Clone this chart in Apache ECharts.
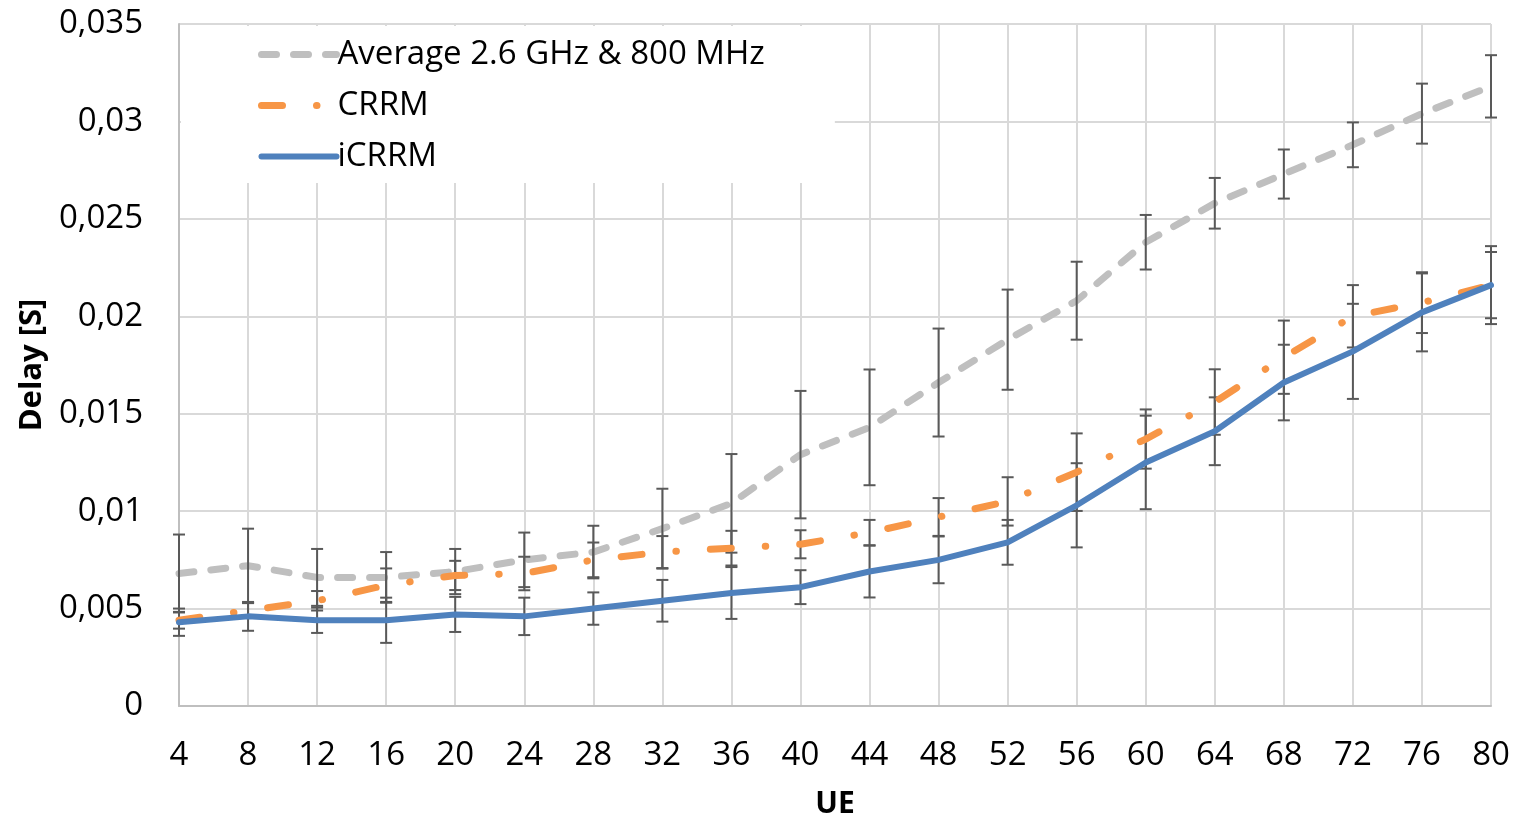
<!DOCTYPE html>
<html>
<head>
<meta charset="utf-8">
<script src="https://cdn.jsdelivr.net/npm/echarts@6/dist/echarts.min.js"></script>
<style>
  html, body { margin: 0; padding: 0; background: #fff; }
  #main { width: 1514px; height: 815px; }
</style>
</head>
<body>
<div id="main"></div>
<script>
// UE counts on the x axis
const ueLabels = ['4', '8', '12', '16', '20', '24', '28', '32', '36', '40', '44', '48', '52', '56', '60', '64', '68', '72', '76', '80']

// Average 2.6 GHz & 800 MHz
const avgDelay = [0.0068, 0.0072, 0.0066, 0.0066, 0.0069, 0.0075, 0.0079, 0.0091, 0.0104, 0.0129, 0.0143, 0.0166, 0.0188, 0.0208, 0.0238, 0.0258, 0.0273, 0.0288, 0.0304, 0.0318]
const avgErr = [0.0020, 0.0019, 0.00146, 0.0013, 0.00116, 0.0014, 0.00135, 0.00205, 0.00253, 0.00327, 0.00297, 0.00277, 0.00257, 0.0020, 0.0014, 0.0013, 0.00126, 0.00115, 0.00154, 0.0016]

// CRRM
const crrmDelay = [0.0044, 0.0049, 0.0054, 0.0062, 0.0067, 0.0068, 0.0075, 0.0079, 0.0081, 0.0083, 0.0089, 0.0097, 0.0105, 0.0120, 0.0137, 0.0156, 0.0179, 0.0200, 0.0207, 0.0216]
const crrmErr = [0.00043, 0.00038, 0.0005, 0.00086, 0.00075, 0.00086, 0.00089, 0.00082, 0.00089, 0.00072, 0.00065, 0.00097, 0.00124, 0.00199, 0.00152, 0.00168, 0.00188, 0.0016, 0.00156, 0.0020]

// iCRRM
const icrrmDelay = [0.0043, 0.0046, 0.0044, 0.0044, 0.0047, 0.0046, 0.0050, 0.0054, 0.0058, 0.0061, 0.0069, 0.0075, 0.0084, 0.0103, 0.0125, 0.0141, 0.0166, 0.0182, 0.0202, 0.0216]
const icrrmErr = [0.0007, 0.00074, 0.00065, 0.00116, 0.0009, 0.00096, 0.00083, 0.00107, 0.00133, 0.00087, 0.00133, 0.0012, 0.00115, 0.00216, 0.0024, 0.00174, 0.00194, 0.00244, 0.0020, 0.0017]

const FONT = "'Open Sans', sans-serif"

// [index, low, high] for the error bars
function errData (mean, err) {
  return mean.map((v, i) => [i, v - err[i], v + err[i]])
}

function renderErr (params, api) {
  let x = api.value(0)
  let lo = api.coord([x, api.value(1)])
  let hi = api.coord([x, api.value(2)])
  let w = 6 // half width of the cap
  let style = { stroke: '#595959', lineWidth: 2 }
  return {
    type: 'group',
    children: [
      { type: 'line', shape: { x1: lo[0], y1: lo[1], x2: hi[0], y2: hi[1] }, style: style },
      { type: 'line', shape: { x1: lo[0] - w, y1: lo[1], x2: lo[0] + w, y2: lo[1] }, style: style },
      { type: 'line', shape: { x1: hi[0] - w, y1: hi[1], x2: hi[0] + w, y2: hi[1] }, style: style }
    ]
  }
}

function errSeries (mean, err, z) {
  return {
    type: 'custom',
    renderItem: renderErr,
    encode: { x: 0, y: [1, 2] },
    data: errData(mean, err),
    z: z,
    silent: true
  }
}

let myChart = echarts.init(document.getElementById('main'))
let option = {
  animation: false,
  backgroundColor: '#fff',
  grid: {
    left: 179,
    right: 23,
    top: 24,
    bottom: 109,
    containLabel: false,
    outerBoundsMode: 'none'
  },
  legend: {
    data: ['Average 2.6 GHz & 800 MHz', 'CRRM', 'iCRRM'],
    orient: 'vertical',
    left: 181,
    top: 26,
    padding: [12, 70, 10, 77],
    backgroundColor: '#fff',
    itemWidth: 75,
    itemHeight: 14,
    itemGap: 18,
    lineStyle: { width: 'inherit' },
    itemStyle: { opacity: 0 },
    textStyle: {
      fontFamily: FONT,
      fontSize: 33,
      color: '#000',
      lineHeight: 33,
      padding: [0, 0, 0, -4]
    },
    z: 10
  },
  xAxis: {
    type: 'category',
    data: ueLabels,
    boundaryGap: false,
    name: 'UE',
    nameLocation: 'middle',
    nameGap: 83,
    nameTextStyle: { fontFamily: FONT, fontSize: 30, fontWeight: 'bold', color: '#000' },
    axisLine: { lineStyle: { color: '#bfbfbf', width: 2 } },
    axisTick: { show: false },
    axisLabel: { fontFamily: FONT, fontSize: 33, color: '#000', margin: 33, interval: 0 },
    splitLine: { show: true, interval: 0, lineStyle: { color: '#d9d9d9', width: 2 } }
  },
  yAxis: {
    type: 'value',
    min: 0,
    max: 0.035,
    interval: 0.005,
    name: 'Delay [S]',
    nameLocation: 'middle',
    nameGap: 130,
    nameRotate: 90,
    nameTextStyle: { fontFamily: FONT, fontSize: 31, fontWeight: 'bold', color: '#000' },
    axisLine: { show: true, lineStyle: { color: '#bfbfbf', width: 2 } },
    axisTick: { show: false },
    axisLabel: {
      fontFamily: FONT,
      fontSize: 33,
      color: '#000',
      margin: 36,
      formatter: v => v === 0 ? '0' : String(+v.toFixed(3)).replace('.', ',')
    },
    splitLine: { lineStyle: { color: '#d9d9d9', width: 2 } }
  },
  series: [
    {
      name: 'Average 2.6 GHz & 800 MHz',
      type: 'line',
      data: avgDelay,
      symbol: 'none',
      z: 2,
      lineStyle: { color: '#bfbfbf', width: 7, type: [15, 17], cap: 'round' },
      itemStyle: { color: '#bfbfbf' }
    },
    errSeries(avgDelay, avgErr, 3),
    {
      name: 'CRRM',
      type: 'line',
      data: crrmDelay,
      symbol: 'none',
      z: 4,
      lineStyle: { color: '#f79646', width: 7, type: [21, 34, 0.5, 34], cap: 'round' },
      itemStyle: { color: '#f79646' }
    },
    errSeries(crrmDelay, crrmErr, 3),
    {
      name: 'iCRRM',
      type: 'line',
      data: icrrmDelay,
      symbol: 'none',
      z: 5,
      lineStyle: { color: '#4f81bd', width: 6, cap: 'round', join: 'round' },
      itemStyle: { color: '#4f81bd' }
    },
    errSeries(icrrmDelay, icrrmErr, 3)
  ]
}
myChart.setOption(option, true)
</script>
</body>
</html>
